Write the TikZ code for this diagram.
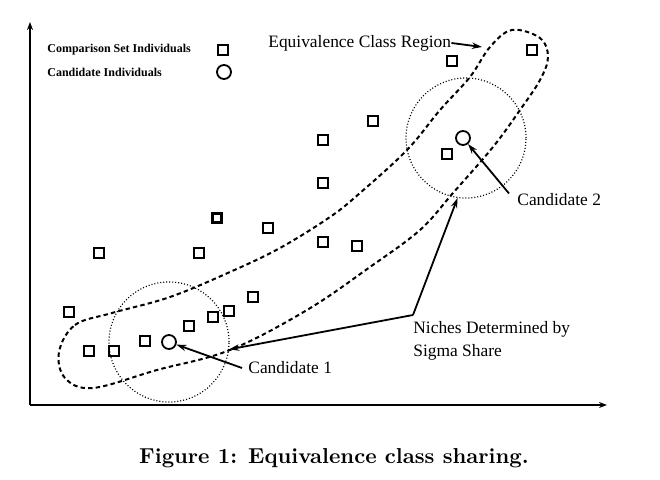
\documentclass[tikz,border=0pt]{standalone}
\usepackage{fontspec}
\newfontfamily\labelfont{Liberation Serif}
\usetikzlibrary{arrows.meta,positioning}

\begin{document}
\begin{tikzpicture}[x=0.5pt, y=-0.5pt,
  indiv/.style={draw, line width=1pt, minimum size=5pt, inner sep=0pt},
  cand/.style={draw, circle, line width=0.9pt, minimum size=7pt, inner sep=0pt},
  niche/.style={draw, circle, line width=0.6pt, dash pattern=on 0.5pt off 1pt, minimum size=60pt, inner sep=0pt},
  lbl/.style={font=\labelfont\fontsize{8.7}{11.5}\selectfont, inner sep=0pt, anchor=west, align=left},
  key/.style={font=\labelfont\bfseries\fontsize{6}{6}\selectfont, inner sep=0pt, anchor=west},
  pointer/.style={-{Stealth[length=5pt,width=3.2pt]}, line width=0.9pt},
  region/.style={line width=1pt, dash pattern=on 2.2pt off 1.6pt}
]
  \useasboundingbox (0,0) rectangle (660,480);

  % axes
  \coordinate (origin) at (30,405);
  \coordinate (ytip) at (30,22);
  \coordinate (xtip) at (607,405);
  \draw[-{Stealth[length=4pt,width=3pt]}, line width=0.7pt] (origin) -- (ytip);
  \draw[-{Stealth[length=4pt,width=3pt]}, line width=0.7pt] (origin) -- (xtip);

  % legend
  \node[key] (keyset)  at (47,50) {Comparison Set Individuals};
  \node[key] (keycand) at (47,72) {Candidate Individuals};
  \node[indiv] (keysq) at (223,50) {};
  \node[cand]  (keyci) at (224,72) {};

  % comparison set
  \node[indiv] (s1)  at (452,61) {};
  \node[indiv] (s2)  at (532,50) {};
  \node[indiv] (s3)  at (373,121) {};
  \node[indiv] (s4)  at (323,140) {};
  \node[indiv] (s5)  at (447,154) {};
  \node[indiv] (s6)  at (323,183) {};
  \node[indiv, line width=1.7pt, minimum size=4.5pt] (s7) at (217,218) {};
  \node[indiv] (s8)  at (268,228) {};
  \node[indiv] (s9)  at (99,253) {};
  \node[indiv] (s10) at (199,253) {};
  \node[indiv] (s11) at (323,242) {};
  \node[indiv] (s12) at (357,246) {};
  \node[indiv] (s13) at (253,297) {};
  \node[indiv] (s14) at (69,312) {};
  \node[indiv] (s15) at (213,317) {};
  \node[indiv] (s16) at (229,311) {};
  \node[indiv] (s17) at (189,326) {};
  \node[indiv] (s18) at (145,341) {};
  \node[indiv] (s19) at (89,351) {};
  \node[indiv] (s20) at (114,351) {};

  % candidates and their niches
  \node[cand]  (c1) at (169,342) {};
  \node[cand]  (c2) at (463,138) {};
  \node[niche] (n1) at (c1) {};
  \node[niche] (n2) at (466,138) {};

  % equivalence class region
  \draw[region] plot[smooth cycle, tension=0.6] coordinates {
    (59,352) (75,325) (112,313) (170,297) (230,272) (280,248) (330,217)
    (360,193) (407,150) (440,110) (470,77) (490,47) (512,30) (540,38)
    (548,57) (540,80) (520,110) (493,147) (453,193) (420,230) (370,267)
    (307,310) (230,350) (157,370) (93,388) (65,378)};

  % labels
  \node[lbl] (eqlbl)  at (268,43)  {Equivalence Class Region};
  \node[lbl] (c2lbl)  at (517,200) {Candidate 2};
  \node[lbl] (c1lbl)  at (248,368) {Candidate 1};
  \node[lbl] (nchlbl) at (413,341) {Niches Determined by\\Sigma Share};
  \coordinate (regtip) at (482,47);
  \coordinate (nchsrc) at (413,315);

  \draw[pointer] (eqlbl.east) -- (regtip);
  \draw[pointer] ([xshift=-4pt]c2lbl.north west) -- (c2);
  \draw[pointer] ([xshift=-3pt]c1lbl.west) -- (c1);
  \draw[pointer] (nchsrc) -- (n1.-7);
  \draw[pointer] (nchsrc) -- (n2.-98);

  % caption
  \node[font=\bfseries\fontsize{10.8}{13}\selectfont, inner sep=0pt] (caption) at (334,458)
    {Figure 1: Equivalence class sharing.};
\end{tikzpicture}
\end{document}
